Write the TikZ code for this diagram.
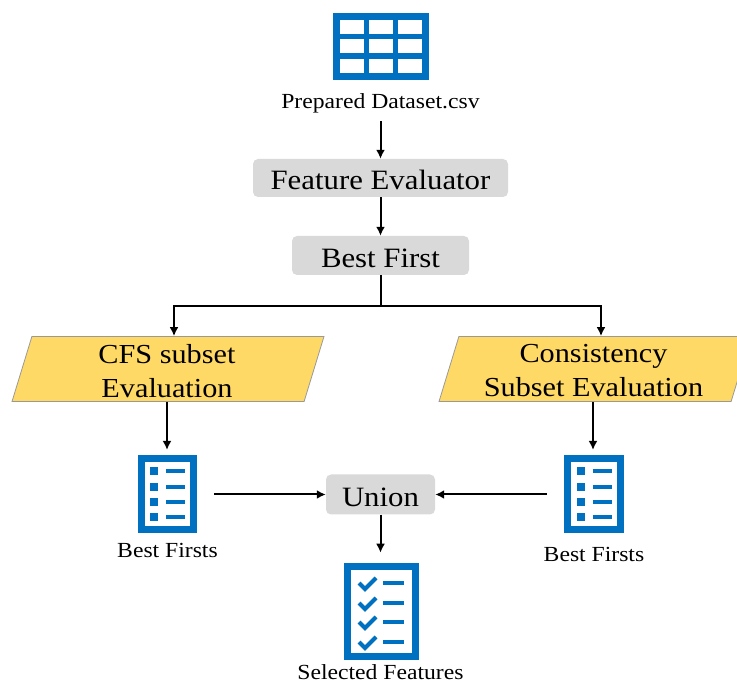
\documentclass[tikz,border=0pt]{standalone}
\usepackage{fontspec}
\setmainfont[FakeStretch=1.1]{Liberation Serif}
\usetikzlibrary{shapes.geometric,arrows.meta}
\definecolor{iconblue}{RGB}{0,112,192}
\definecolor{boxgray}{RGB}{217,217,217}
\definecolor{evalyellow}{RGB}{255,217,102}
\tikzset{
  flowbox/.style={fill=boxgray,rounded corners=5pt,inner sep=0pt,font=\fontsize{28}{30}\selectfont,
    align=center,execute at begin node={\leavevmode\rule{0pt}{24pt}}},
  evalbox/.style={draw=black!40,line width=0.8pt,fill=evalyellow,trapezium,trapezium left angle=85,trapezium right angle=95,
    trapezium stretches=true,inner sep=0pt,minimum width=312pt,minimum height=65pt},
  evaltext/.style={font=\fontsize{27.5}{34}\selectfont,align=center,inner sep=0pt},
  iconframe/.style={draw=iconblue,line width=7pt,fill=white,inner sep=0pt},
  iconlabel/.style={font=\fontsize{21.5}{23}\selectfont,inner sep=0pt},
  flowarrow/.style={-{Latex[length=9pt,width=9pt]},line width=2pt,black}
}
\begin{document}
\begin{tikzpicture}[x=1pt,y=-1pt]
  \useasboundingbox (0,0) rectangle (737,684);
  \node[fill=iconblue,inner sep=0pt,minimum width=96pt,minimum height=67pt] (dataicon) at (381,46.5) {};
  \foreach \x in {340,369,398}
    \foreach \y in {20,39.5,59}
      \fill[white] (\x,\y) rectangle ++(24,14);
  \node[iconlabel] (datalabel) at (380.5,103) {Prepared Dataset.csv};
  \node[flowbox,minimum width=255pt,minimum height=38pt] (evaluator) at (380.5,178) {Feature Evaluator};
  \node[flowbox,minimum width=177pt,minimum height=39pt] (bestfirst) at (380.5,255.5) {Best First};
  \node[evalbox] (cfs) at (168,369) {\phantom{x}};
  \node[evaltext] (cfstext) at (167,371) {CFS subset\\Evaluation};
  \node[evalbox] (consistency) at (595,369) {\phantom{x}};
  \node[evaltext] (consistencytext) at (593.5,371) {Consistency\\Subset Evaluation};
  \node[iconframe,minimum width=52pt,minimum height=71pt] (listleft) at (167.5,494.5) {};
  \node[iconframe,minimum width=53pt,minimum height=71pt] (listright) at (594,494.5) {};
  \foreach \c in {167.5,594}
    \foreach \y in {471,487,502,517} {
      \fill[iconblue] (\c-17.5,\y-4) rectangle ++(8,8);
      \draw[iconblue,line width=3.5pt] (\c-1.5,\y) -- ++(19,0);
    }
  \node[iconlabel] (labelleft) at (167.5,550) {Best Firsts};
  \node[iconlabel] (labelright) at (594,554) {Best Firsts};
  \node[flowbox,minimum width=109pt,minimum height=40pt] (union) at (380.5,494.5) {Union};
  \node[iconframe,minimum width=68pt,minimum height=90pt] (selecticon) at (381,611.5) {};
  \foreach \y in {583,603,622,642} {
    \draw[iconblue,line width=4pt] (359,\y) -- ++(6,6) -- ++(11,-11);
    \draw[iconblue,line width=4pt] (383,\y) -- ++(21,0);
  }
  \node[iconlabel] (selectlabel) at (380.5,672) {Selected Features};
  \draw[flowarrow] (datalabel.south) ++(0,8) -- (evaluator.north);
  \draw[flowarrow] (evaluator.south) -- (bestfirst.north);
  \draw[flowarrow] (bestfirst.south) -- ++(0,31) -| ([xshift=6pt]cfs.north);
  \draw[flowarrow] (bestfirst.south) -- ++(0,31) -| ([xshift=6pt]consistency.north);
  \draw[flowarrow] ([xshift=-1pt]cfs.south) -- ++(0,48);
  \draw[flowarrow] ([xshift=-2pt]consistency.south) -- ++(0,48);
  \draw[flowarrow,shorten <=17pt] (listleft.east) -- (union.west);
  \draw[flowarrow,shorten <=17pt] (listright.west) -- (union.east);
  \draw[flowarrow] (union.south) -- ++(0,38);
\end{tikzpicture}
\end{document}
